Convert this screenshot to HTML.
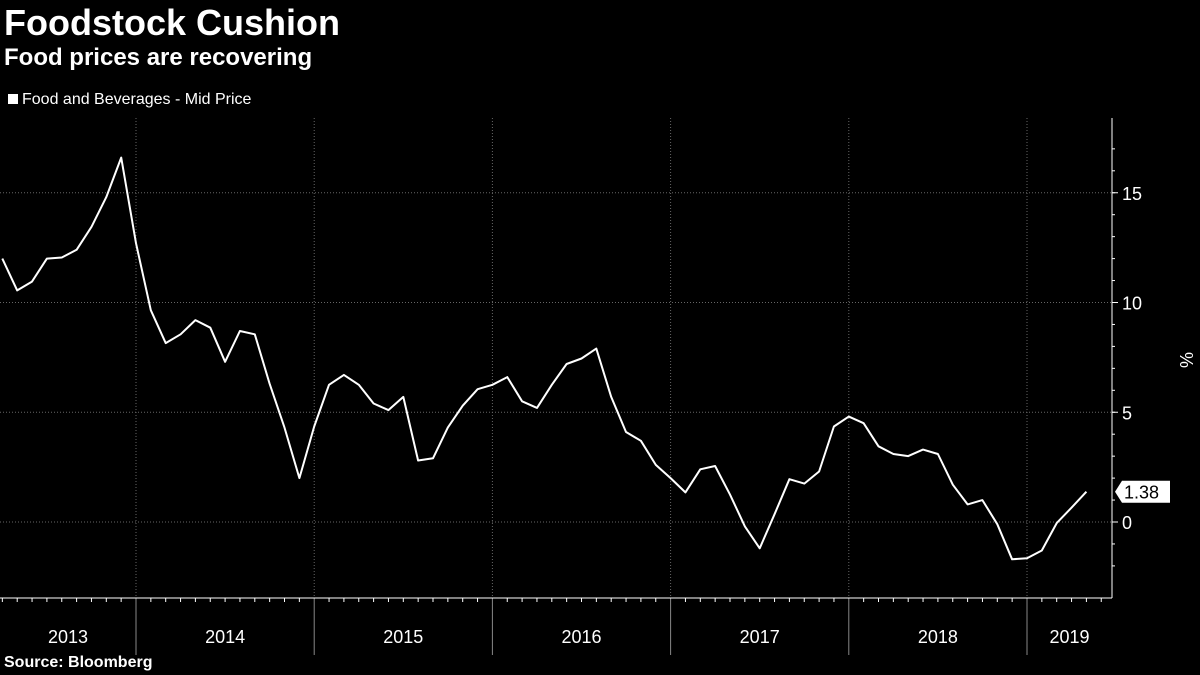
<!DOCTYPE html>
<html><head><meta charset="utf-8"><style>
html,body{margin:0;padding:0;background:#000;width:1200px;height:675px;overflow:hidden;font-family:"Liberation Sans",sans-serif;color:#fff}
.t{position:absolute;left:4px;font-weight:bold}
</style></head><body>
<div class="t" style="top:2px;font-size:36px">Foodstock Cushion</div>
<div class="t" style="top:44px;font-size:24px">Food prices are recovering</div>
<div style="position:absolute;left:8px;top:91px;font-size:16px"><span style="display:inline-block;width:10px;height:10px;background:#fff;margin-right:4px"></span>Food and Beverages - Mid Price</div>
<div class="t" style="top:654px;font-size:16px">Source: Bloomberg</div>
<svg id="c" width="1200" height="675" style="position:absolute;left:0;top:0"></svg>
<script>
const years=["2013","2014","2015","2016","2017","2018","2019"];
const yTicks=[0,5,10,15];
const values=[12.0,10.55,10.95,12.0,12.05,12.4,13.45,14.8,16.6,12.7,9.65,8.15,8.55,9.2,8.85,7.3,8.7,8.55,6.3,4.3,2.0,4.35,6.25,6.7,6.25,5.4,5.1,5.7,2.8,2.9,4.3,5.3,6.05,6.25,6.6,5.5,5.2,6.25,7.2,7.45,7.9,5.7,4.1,3.7,2.6,2.0,1.35,2.4,2.55,1.25,-0.2,-1.2,0.35,1.95,1.75,2.3,4.35,4.8,4.5,3.45,3.1,3.0,3.3,3.1,1.7,0.8,1.0,-0.1,-1.7,-1.65,-1.3,-0.05,0.65,1.38];
const startMonth=3;
const lastLabel="1.38";
const svg=document.getElementById('c');
const NS='http://www.w3.org/2000/svg';
function mk(t,a){const e=document.createElementNS(NS,t);for(const k in a)e.setAttribute(k,a[k]);svg.appendChild(e);return e;}
const mpx=(1027-136)/60;
const xM=m=>136+(m-12)*mpx;
const yV=v=>522-v*21.95;
const plotTop=118,plotBot=598,plotRight=1112;
yTicks.forEach(v=>{
 const l=mk('line',{x1:0,x2:plotRight,y1:yV(v),y2:yV(v),stroke:'#666','stroke-dasharray':'1,2'});
 
 
 const tk=mk('line',{x1:plotRight,x2:plotRight+6,y1:yV(v),y2:yV(v),stroke:'#fff'});
 
 
 const t=mk('text',{x:plotRight+10,y:yV(v)+7,fill:'#fff','font-size':18,'font-family':'Liberation Sans'});
 t.textContent=v;
 
 
});
for(let v=-2;v<=17;v++){const tk=mk('line',{x1:plotRight,x2:plotRight+3,y1:yV(v),y2:yV(v),stroke:'#fff'});
 
 }
years.forEach((y,i)=>{
 const x0=xM(i*12),x1=xM((i+1)*12);
 if(i>0){
  const g=mk('line',{x1:x0,x2:x0,y1:plotTop,y2:plotBot,stroke:'#666','stroke-dasharray':'1,2'});
  
  
  const s=mk('line',{x1:x0,x2:x0,y1:plotBot,y2:655,stroke:'#888'});
  
  
 }
 for(let m=1;m<12;m++){const x=xM(i*12+m);if(x>0&&x<plotRight){const tk=mk('line',{x1:x,x2:x,y1:plotBot,y2:plotBot+4,stroke:'#fff'});
  
  }}
 const cx=(Math.max(x0,0)+Math.min(x1,plotRight))/2;
 const t=mk('text',{x:i==0?68:cx,y:643,fill:'#fff','font-size':18,'text-anchor':'middle','font-family':'Liberation Sans'});
 t.textContent=y;
 
 
});
const ax=mk('line',{x1:0,x2:plotRight,y1:plotBot,y2:plotBot,stroke:'#fff'});


const ay=mk('line',{x1:plotRight,x2:plotRight,y1:plotTop,y2:plotBot,stroke:'#fff'});


const pct=mk('text',{x:0,y:0,fill:'#fff','font-size':18,transform:'translate(1180,360) rotate(90)','text-anchor':'middle','font-family':'Liberation Sans'});
pct.textContent='%';


const pts=values.map((v,i)=>xM(startMonth+i).toFixed(1)+','+yV(v).toFixed(1)).join(' ');
const pl=mk('polyline',{points:pts,fill:'none',stroke:'#fff','stroke-width':2,'stroke-linejoin':'round'});


const ly=yV(values[values.length-1]);
const tag=mk('path',{d:`M${plotRight+3},${ly} L${plotRight+10},${ly-11} H1170 V${ly+11} H${plotRight+10} Z`,fill:'#fff'});


const lt=mk('text',{x:plotRight+12,y:ly+7,fill:'#000','font-size':18,'font-family':'Liberation Sans'});
lt.textContent=lastLabel;


</script>
</body></html>
